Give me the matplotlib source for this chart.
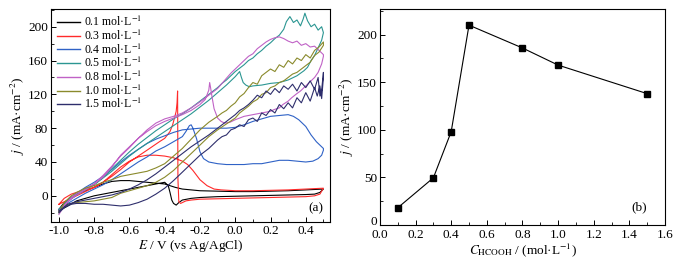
import matplotlib
matplotlib.use("Agg")
import matplotlib.pyplot as plt
from matplotlib.ticker import MultipleLocator
from matplotlib.transforms import ScaledTranslation

plt.rcParams['font.family'] = ['Liberation Serif', 'DejaVu Serif']
plt.rcParams['mathtext.fontset'] = 'stix'

# ---------------- Panel (a): CV curves ----------------
labels_a = ["0.1 mol·L$^{-1}$", "0.3 mol·L$^{-1}$", "0.4 mol·L$^{-1}$", "0.5 mol·L$^{-1}$",
            "0.8 mol·L$^{-1}$", "1.0 mol·L$^{-1}$", "1.5 mol·L$^{-1}$"]
colors_a = ["#000000", "#ff2a2a", "#2f62c6", "#2b9692", "#c062c6", "#8a8a2c", "#2e2e6c"]

# 0.1 mol/L
E01 = [-1.0,-0.97,-0.93,-0.9,-0.85,-0.8,-0.75,-0.7,-0.65,-0.6,-0.55,-0.5,-0.45,-0.4,-0.37,-0.34,-0.3,-0.25,-0.2,-0.1,0.0,0.1,0.2,0.3,0.4,0.45,0.5,
       0.5,0.48,0.45,0.4,0.3,0.2,0.1,0.0,-0.1,-0.2,-0.25,-0.3,-0.32,-0.335,-0.35,-0.36,-0.37,-0.38,-0.4,-0.45,-0.5,-0.6,-0.7,-0.8,-0.9,-0.95,-1.0]
j01 = [-16,-8,-2,2,6,10,14,17,18,18,17,16,15,14,12,10,8,7,6,5.5,5,5,5.5,6,7,7.5,8,
       8,4,2,1.5,1,0.5,0,-0.5,-1,-2,-3,-5,-8,-11,-9,-5,4,12,16,14,12,8,4,0,-6,-12,-18]

# 0.3 mol/L
E03 = [-1.0,-0.97,-0.93,-0.9,-0.85,-0.8,-0.75,-0.7,-0.65,-0.6,-0.55,-0.5,-0.45,-0.4,-0.35,-0.3,-0.27,-0.24,-0.2,-0.16,-0.12,-0.08,0.0,0.1,0.2,0.3,0.4,0.5,
       0.5,0.48,0.45,0.4,0.3,0.2,0.1,0.0,-0.1,-0.2,-0.25,-0.28,-0.3,-0.31,-0.32,-0.325,-0.327,-0.33,-0.335,-0.342,-0.355,-0.37,-0.4,-0.43,-0.5,-0.55,-0.6,-0.65,-0.7,-0.75,-0.8,-0.85,-0.9,-0.95,-1.0]
j03 = [-10,-3,2,4,7,10,16,25,34,41,46,48,48,47,45,41,37,30,19,12,8,7,6,6,6.5,7,8,9,
       9,2,0,-1,-1.5,-2,-2.5,-3,-3.5,-4,-5,-6,-8,-9,-7,20,124,110,100,94,84,76,68,64,54,47,40,31,23,16,10,5,0,-5,-10]

# 0.4 mol/L
E04 = [-1.0,-0.97,-0.93,-0.9,-0.85,-0.8,-0.75,-0.7,-0.65,-0.6,-0.55,-0.5,-0.45,-0.4,-0.35,-0.3,-0.25,-0.2,-0.15,-0.1,-0.05,0.0,0.05,0.1,0.15,0.2,0.25,0.3,0.33,0.36,0.4,0.43,0.46,0.48,0.5,
       0.5,0.49,0.47,0.44,0.4,0.35,0.3,0.25,0.2,0.15,0.1,0.05,0.0,-0.05,-0.1,-0.15,-0.18,-0.2,-0.22,-0.24,-0.25,-0.26,-0.28,-0.3,-0.35,-0.4,-0.45,-0.5,-0.55,-0.6,-0.65,-0.7,-0.75,-0.8,-0.85,-0.9,-0.95,-1.0]
j04 = [-18,-10,-2,3,10,16,23,31,40,48,55,62,67,71,75,78,79,80,80,80,80,81,84,88,91,94,95,96,94,90,82,72,64,60,56,
       54,48,44,41,40,41,42,42,40,38,38,37,37,37,38,40,44,52,68,80,84,83,76,70,64,58,53,46,40,33,26,19,13,8,3,-3,-9,-16]

# 0.5 mol/L
E05 = [-1.0,-0.97,-0.93,-0.9,-0.85,-0.8,-0.75,-0.7,-0.65,-0.6,-0.55,-0.5,-0.45,-0.4,-0.35,-0.3,-0.25,-0.2,-0.15,-0.1,
       -0.075,-0.05,-0.025,0.0,0.025,0.05,0.075,0.1,0.125,0.15,0.175,0.2,0.225,0.25,0.275,0.29,0.31,0.33,0.35,0.37,0.385,0.395,0.41,0.43,0.45,0.47,0.49,0.5,
       0.5,0.49,0.47,0.45,0.43,0.41,0.39,0.37,0.35,0.33,0.3,0.25,0.2,0.15,0.1,0.08,0.06,0.045,0.035,0.025,0.0,-0.05,-0.1,-0.15,-0.2,-0.25,-0.3,-0.35,-0.4,-0.45,-0.5,-0.55,-0.6,-0.65,-0.7,-0.75,-0.8,-0.85,-0.9,-0.95,-1.0]
j05 = [-20,-10,-2,3,8,14,22,32,42,52,61,69,77,84,91,97,104,112,120,128,
       133,137,142,147,151,155,160,163,168,172,177,181,186,190,197,206,212,205,208,201,209,216,207,200,203,196,200,193,
       193,184,175,166,160,152,148,145,142,140,137,134,133,131,130,129,131,134,140,147,141,131,122,113,105,97,90,83,76,69,62,55,47,38,29,21,13,7,1,-7,-16]

# 0.8 mol/L
E08 = [-1.0,-0.97,-0.93,-0.9,-0.85,-0.8,-0.75,-0.7,-0.65,-0.6,-0.55,-0.5,-0.45,-0.4,-0.35,-0.3,-0.25,-0.2,-0.15,-0.1,
       -0.075,-0.05,-0.025,0.0,0.025,0.05,0.075,0.1,0.125,0.15,0.175,0.2,0.225,0.25,0.275,0.3,0.325,0.35,0.375,0.4,0.425,0.45,0.475,0.5,
       0.5,0.49,0.47,0.45,0.42,0.4,0.37,0.35,0.32,0.3,0.27,0.25,0.22,0.2,0.15,0.1,0.05,0.0,-0.03,-0.06,-0.08,-0.1,-0.12,-0.13,-0.14,-0.145,-0.15,-0.17,-0.2,-0.25,-0.3,-0.35,-0.4,-0.45,-0.5,-0.55,-0.6,-0.65,-0.7,-0.75,-0.8,-0.85,-0.9,-0.95,-1.0]
j08 = [-22,-12,-2,3,8,14,22,34,48,58,68,78,86,91,94,98,104,111,119,127,
       133,139,145,150,155,160,165,168,174,178,182,185,187,188,186,183,181,183,178,180,176,177,172,167,
       165,156,146,140,134,130,124,121,116,112,108,104,102,100,98,96,94,90,87,86,88,92,103,115,128,134,125,114,108,101,96,92,88,83,76,68,57,47,35,24,14,7,1,-7,-18]

# 1.0 mol/L
E10 = [-1.0,-0.97,-0.93,-0.9,-0.85,-0.8,-0.75,-0.7,-0.65,-0.6,-0.55,-0.5,-0.45,-0.4,-0.35,-0.3,-0.25,-0.2,-0.15,-0.1,
       -0.075,-0.05,-0.025,0.0,0.025,0.05,0.075,0.1,0.125,0.15,0.175,0.2,0.225,0.25,0.275,0.3,0.325,0.35,0.375,0.4,0.425,0.45,0.475,0.5,
       0.5,0.475,0.45,0.425,0.4,0.375,0.35,0.325,0.3,0.275,0.25,0.225,0.2,0.175,0.15,0.125,0.1,0.075,0.05,0.025,0.0,-0.05,-0.1,-0.15,-0.2,-0.25,-0.3,-0.35,-0.4,-0.45,-0.5,-0.55,-0.6,-0.65,-0.7,-0.75,-0.8,-0.85,-0.9,-0.95,-1.0]
j10 = [-20,-8,0,4,9,12,16,19,23,25,27,29,33,38,47,56,67,78,87,94,
       98,101,106,110,117,121,128,134,132,142,146,150,147,155,152,160,156,163,160,167,163,172,176,182,
       178,170,166,158,154,150,146,144,140,136,134,130,128,122,120,114,111,106,102,98,92,85,78,70,60,50,40,30,22,16,12,9,6,3,-2,-4,-6,-7,-8,-10,-18]

# 1.5 mol/L
E15 = [-1.0,-0.97,-0.93,-0.9,-0.85,-0.8,-0.75,-0.7,-0.65,-0.6,-0.55,-0.5,-0.45,-0.4,-0.35,-0.3,-0.25,-0.2,-0.15,-0.1,
       -0.075,-0.05,-0.025,0.0,0.025,0.05,0.075,0.1,0.125,0.15,0.175,0.2,0.225,0.25,0.275,0.3,0.325,0.35,0.375,0.4,0.425,0.45,0.465,0.48,0.49,0.5,
       0.5,0.49,0.48,0.47,0.45,0.425,0.4,0.375,0.35,0.325,0.3,0.275,0.25,0.225,0.2,0.175,0.15,0.125,0.1,0.075,0.05,0.025,0.0,-0.05,-0.1,-0.15,-0.2,-0.25,-0.3,-0.35,-0.4,-0.45,-0.5,-0.55,-0.6,-0.65,-0.7,-0.75,-0.8,-0.85,-0.9,-0.95,-1.0]
j15 = [-20,-14,-10,-9,-9,-10,-10,-11,-12,-11,-8,-4,2,9,18,28,38,48,56,66,
       70,72,78,80,84,82,90,92,88,98,95,102,98,108,103,110,104,116,110,122,112,128,118,130,115,140,
       146,125,118,140,126,136,128,134,124,132,126,130,122,127,120,124,116,119,113,108,104,101,96,88,80,72,65,58,50,42,34,26,19,13,8,4,1,-1,-3,-5,-7,-10,-18]

E_sets = [E01, E03, E04, E05, E08, E10, E15]
j_sets = [j01, j03, j04, j05, j08, j10, j15]

# ---------------- Panel (b) ----------------
conc_b = [0.1, 0.3, 0.4, 0.5, 0.8, 1.0, 1.5]
jpeak_b = [18, 49.5, 98, 210, 186, 168, 138]

fig = plt.figure(figsize=(6.87, 2.64), dpi=100)
axa = fig.add_axes([0.0742, 0.159, 0.4058, 0.807])
axb = fig.add_axes([0.553, 0.148, 0.415, 0.818])

fs = 9.5
for E, j, c, lab in zip(E_sets, j_sets, colors_a, labels_a):
    axa.plot(E, j, color=c, lw=0.8, label=lab)

axa.set_xlim(-1.045, 0.536)
axa.set_ylim(-31, 221)
axa.xaxis.set_major_locator(MultipleLocator(0.2))
axa.xaxis.set_minor_locator(MultipleLocator(0.1))
axa.yaxis.set_major_locator(MultipleLocator(40))
axa.yaxis.set_minor_locator(MultipleLocator(20))
axa.set_xticks([-1.0, -0.8, -0.6, -0.4, -0.2, 0.0, 0.2, 0.4])
axa.set_xticklabels(["-1.0", "-0.8", "-0.6", "-0.4", "-0.2", "0.0", "0.2", "0.4"])
axa.set_yticks([0, 40, 80, 120, 160, 200])
axa.set_xlabel("$E$ / V (vs Ag/AgCl)", fontsize=fs, labelpad=1)
axa.set_ylabel("$j$ / (mA·cm$^{-2}$)", fontsize=fs, labelpad=1)
axa.text(0.5, -22, "(a)", fontsize=fs, ha='right', va='bottom')
leg = axa.legend(loc='upper left', frameon=False, fontsize=8.5, handlelength=2.0,
                 handletextpad=0.3, labelspacing=-0.05, borderaxespad=0.1,
                 bbox_to_anchor=(0.0, 1.0))
for line in leg.get_lines():
    line.set_linewidth(1.0)

axb.plot(conc_b, jpeak_b, color='black', lw=0.8, marker='s', markersize=4.5,
         markerfacecolor='black', markeredgecolor='black')
axb.set_xlim(0.0, 1.6)
axb.set_ylim(0, 227)
axb.xaxis.set_major_locator(MultipleLocator(0.2))
axb.xaxis.set_minor_locator(MultipleLocator(0.1))
axb.yaxis.set_major_locator(MultipleLocator(50))
axb.yaxis.set_minor_locator(MultipleLocator(25))
axb.set_xticks([0.0, 0.2, 0.4, 0.6, 0.8, 1.0, 1.2, 1.4, 1.6])
axb.set_xticklabels(["0.0", "0.2", "0.4", "0.6", "0.8", "1.0", "1.2", "1.4", "1.6"])
axb.set_xlabel("$C_{\\rm HCOOH}$ / (mol·L$^{-1}$)", fontsize=fs, labelpad=0)
axb.set_ylabel("$j$ / (mA·cm$^{-2}$)", fontsize=fs, labelpad=1)
axb.text(1.5, 12, "(b)", fontsize=fs, ha='right', va='bottom')

for ax in (axa, axb):
    ax.tick_params(which='both', direction='in', top=False, right=False, labelsize=fs)
    ax.tick_params(axis='y', pad=2)
    ax.tick_params(which='major', length=3.5, width=0.7)
    ax.tick_params(which='minor', length=2, width=0.6)
    for s in ax.spines.values():
        s.set_linewidth(0.8)
axa.tick_params(axis='x', pad=2)
axb.tick_params(axis='x', pad=3)

fig.canvas.draw()
for tick in axb.yaxis.get_major_ticks():
    if tick.label1.get_text() == "0":
        tick.label1.set_transform(tick.label1.get_transform()
                                  + ScaledTranslation(0, 3.5 / 72, fig.dpi_scale_trans))

fig.savefig("out.png", dpi=100)
